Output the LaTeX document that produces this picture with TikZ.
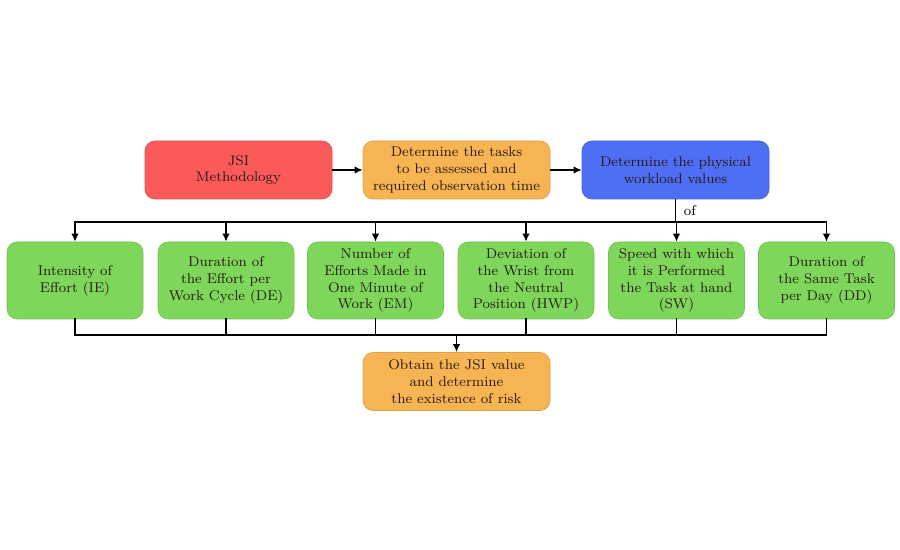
\documentclass[tikz,border=0pt]{standalone}
\usepackage{tikz}
\usetikzlibrary{positioning,arrows.meta,calc}
\definecolor{jsired}{HTML}{FA5A5A}
\definecolor{jsiorange}{HTML}{F6B452}
\definecolor{jsiblue}{HTML}{4E6EF4}
\definecolor{jsigreen}{HTML}{7ED75A}
\definecolor{jsitext}{HTML}{2A1A12}

\begin{document}
\begin{tikzpicture}[
  font=\fontsize{8}{9.6}\selectfont,
  box/.style={rounded corners=2mm, align=center, text=jsitext, inner sep=2pt,
              minimum width=37.4mm, minimum height=11.6mm},
  factor/.style={box, fill=jsigreen, draw=jsigreen!90!black, line width=0.3pt,
                 minimum width=27.2mm, minimum height=15.4mm},
  arr/.style={-{Latex[length=1.6mm, width=1.5mm]}, line width=0.9pt},
  ln/.style={line width=0.9pt, line cap=rect}
]
\useasboundingbox (0,0) rectangle (18,-11);
% ----- top row -----
\node[box, fill=jsired, draw=jsired!90!black]       (jsi)   at (4.77,-3.40)  {JSI\\Methodology};
\node[box, fill=jsiorange, draw=jsiorange!90!black] (tasks) at (9.13,-3.40)  {Determine the tasks\\to be assessed and\\required observation time};
\node[box, fill=jsiblue, draw=jsiblue!90!black]     (phys)  at (13.51,-3.40) {Determine the physical\\workload values};
\draw[arr] (jsi) -- (tasks);
\draw[arr] (tasks) -- (phys);
% ----- factors -----
\node[factor] (ie)  at (1.50,-5.61)  {Intensity of\\Effort (IE)};
\node[factor] (de)  at (4.52,-5.61)  {Duration of\\the Effort per\\Work Cycle (DE)};
\node[factor] (em)  at (7.51,-5.61)  {Number of\\Efforts Made in\\One Minute of\\Work (EM)};
\node[factor] (hwp) at (10.52,-5.61) {Deviation of\\the Wrist from\\the Neutral\\Position (HWP)};
\node[factor] (sw)  at (13.53,-5.61) {Speed with which\\it is Performed\\the Task at hand\\(SW)};
\node[factor] (dd)  at (16.53,-5.61) {Duration of\\the Same Task\\per Day (DD)};
% ----- result -----
\node[box, fill=jsiorange, draw=jsiorange!90!black] (result) at (9.13,-7.63) {Obtain the JSI value\\and determine\\the existence of risk};
% ----- distribution bus -----
\coordinate (busT) at (0,-4.44);
\coordinate (busB) at (0,-6.70);
\draw[ln] (phys.south) -- node[right, xshift=1pt, pos=0.5]{of} (phys.south |- busT);
\draw[ln] (ie.north |- busT) -- (dd.north |- busT);
\foreach \f in {ie,de,em,hwp,sw,dd}{\draw[arr] (\f.north |- busT) -- (\f.north);}
% ----- collecting bus -----
\foreach \f in {ie,de,em,hwp,sw,dd}{\draw[ln] (\f.south) -- (\f.south |- busB);}
\draw[ln] (ie.south |- busB) -- (dd.south |- busB);
\draw[arr] (result.north |- busB) -- (result.north);
\end{tikzpicture}
\end{document}
